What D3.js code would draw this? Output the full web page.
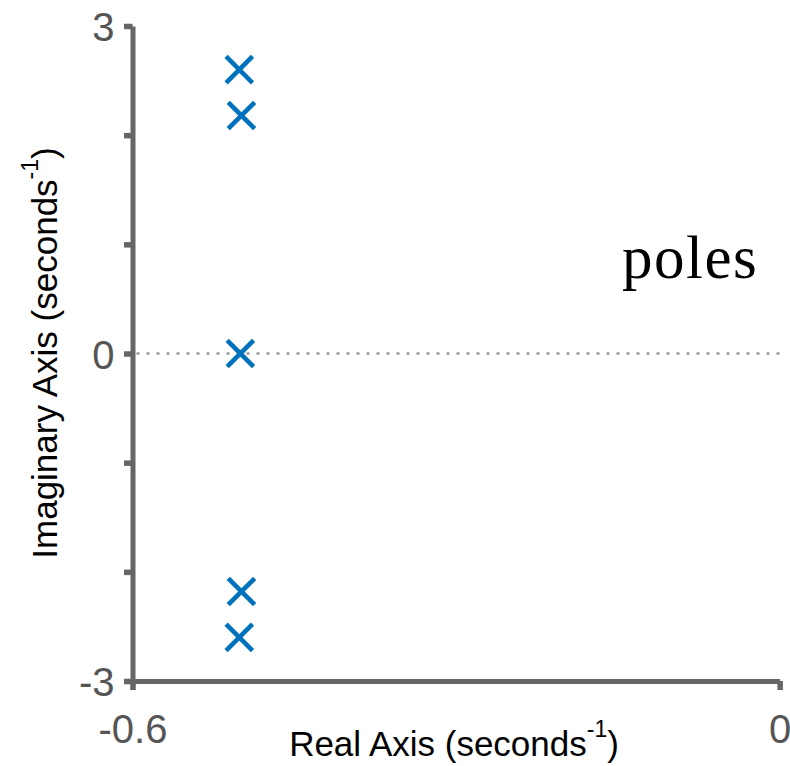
<!DOCTYPE html>
<html>
<head>
<meta charset="utf-8">
<script src="https://cdn.jsdelivr.net/npm/d3@7"></script>
<style>
  html, body { margin: 0; padding: 0; background: #fff; }
  svg { display: block; }
</style>
</head>
<body>
<script>
// ---- data ----
const poleReal = [-0.501, -0.499, -0.500, -0.499, -0.501];
const poleImag = [2.60, 2.18, 0, -2.18, -2.60];
const xTicks = [-0.6, 0];
const xTickLabels = ["-0.6", "0"];
const yTicks = [-3, -2, -1, 0, 1, 2, 3];
const yTickLabels = ["-3", "", "", "0", "", "", "3"];
const xDomain = [-0.6, 0];
const yDomain = [-3, 3];
const xLabel = "Real Axis (seconds";
const yLabel = "Imaginary Axis (seconds";
const unitSup = "-1";
const annotation = "poles";

const W = 790, H = 766;
const axisColor = "#666666";
const markColor = "#0072BD";

const svg = d3.select("body").append("svg")
  .attr("width", W).attr("height", H);

const x = d3.scaleLinear().domain(xDomain).range([132.5, 779.7]);
const y = d3.scaleLinear().domain(yDomain).range([681, 26]);

// zero dotted line
svg.append("line")
  .attr("x1", x(xDomain[0]) + 4).attr("x2", x(xDomain[1]))
  .attr("y1", y(0)).attr("y2", y(0))
  .attr("stroke", "#999").attr("stroke-width", 2.6)
  .attr("stroke-dasharray", "3 7");

// x axis
const xAxis = d3.axisBottom(x)
  .tickValues(xTicks)
  .tickFormat((d, i) => xTickLabels[i])
  .tickSize(9).tickSizeOuter(0);
const gx = svg.append("g").attr("transform", `translate(0,${y(yDomain[0])})`).call(xAxis);
gx.select(".domain").attr("stroke", axisColor).attr("stroke-width", 5);
gx.selectAll(".tick line").attr("stroke", axisColor).attr("stroke-width", 5.5);
gx.selectAll(".tick text")
  .attr("y", 62).attr("dy", null)
  .attr("font-family", "Liberation Sans, Arial, sans-serif")
  .attr("font-size", 40).attr("fill", "#555");

// y axis
const yAxis = d3.axisLeft(y)
  .tickValues(yTicks)
  .tickFormat((d, i) => yTickLabels[i])
  .tickSize(8.5).tickSizeOuter(0);
const gy = svg.append("g").attr("transform", `translate(${x(xDomain[0])},0)`).call(yAxis);
gy.select(".domain").attr("stroke", axisColor).attr("stroke-width", 5);
gy.selectAll(".tick line").attr("stroke", axisColor).attr("stroke-width", 5.5);
gy.selectAll(".tick text")
  .attr("x", -18).attr("dy", null).attr("y", 14.5)
  .attr("font-family", "Liberation Sans, Arial, sans-serif")
  .attr("font-size", 40).attr("fill", "#555");

// markers (x)
const d = 13.2;
const marks = svg.append("g");
poleReal.forEach((re, i) => {
  const cx = x(re), cy = y(poleImag[i]);
  marks.append("path")
    .attr("d", `M${cx - d},${cy - d}L${cx + d},${cy + d}M${cx - d},${cy + d}L${cx + d},${cy - d}`)
    .attr("stroke", markColor).attr("stroke-width", 4.6).attr("fill", "none");
});

// axis labels
const xl = svg.append("text")
  .attr("x", 454).attr("y", 756)
  .attr("text-anchor", "middle")
  .attr("font-family", "Liberation Sans, Arial, sans-serif")
  .attr("font-size", 35).attr("fill", "#000");
xl.append("tspan").text(xLabel);
xl.append("tspan").attr("font-size", 23).attr("dy", -19).text(unitSup);
xl.append("tspan").attr("dy", 19).text(")");

const yl = svg.append("text")
  .attr("transform", `translate(57,353) rotate(-90)`)
  .attr("text-anchor", "middle")
  .attr("font-family", "Liberation Sans, Arial, sans-serif")
  .attr("font-size", 35).attr("fill", "#000");
yl.append("tspan").text(yLabel);
yl.append("tspan").attr("font-size", 23).attr("dy", -19).text(unitSup);
yl.append("tspan").attr("dy", 19).text(")");

// annotation
svg.append("text")
  .attr("x", 622).attr("y", 278)
  .attr("font-family", "Liberation Serif, Times New Roman, serif")
  .attr("font-size", 61).attr("letter-spacing", 1.5).attr("fill", "#000")
  .text(annotation);
</script>
</body>
</html>
